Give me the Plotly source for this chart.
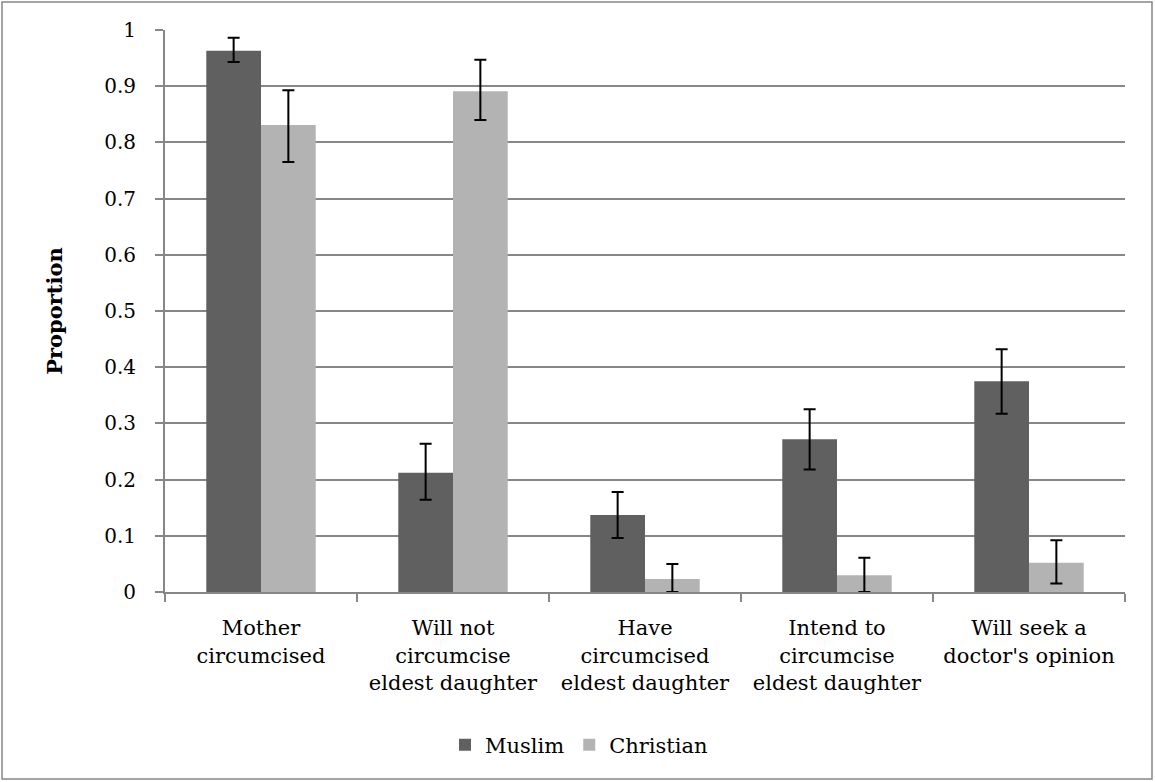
import plotly.graph_objects as go

# Survey outcomes by religion, with 95% confidence intervals
categories = [
    "Mother<br>circumcised",
    "Will not<br>circumcise<br>eldest daughter",
    "Have<br>circumcised<br>eldest daughter",
    "Intend to<br>circumcise<br>eldest daughter",
    "Will seek a<br>doctor's opinion",
]
muslim = [0.963, 0.212, 0.137, 0.272, 0.375]
muslim_err_plus = [0.023, 0.052, 0.041, 0.053, 0.057]
muslim_err_minus = [0.020, 0.048, 0.041, 0.054, 0.058]
christian = [0.831, 0.891, 0.023, 0.030, 0.052]
christian_err_plus = [0.062, 0.056, 0.027, 0.031, 0.040]
christian_err_minus = [0.066, 0.051, 0.023, 0.030, 0.037]
y_ticks = [0, 0.1, 0.2, 0.3, 0.4, 0.5, 0.6, 0.7, 0.8, 0.9, 1]
y_tick_text = ["0", "0.1", "0.2", "0.3", "0.4", "0.5", "0.6", "0.7", "0.8", "0.9", "1"]

FONT = "DejaVu Serif"
GRID = "#878787"

def err(plus, minus):
    return dict(type="data", symmetric=False, array=plus, arrayminus=minus,
                color="black", thickness=2, width=6)

fig = go.Figure()
fig.add_trace(go.Bar(name="Muslim", x=categories, y=muslim,
                     marker=dict(color="#606060", line=dict(width=0)),
                     error_y=err(muslim_err_plus, muslim_err_minus)))
fig.add_trace(go.Bar(name="Christian", x=categories, y=christian,
                     marker=dict(color="#b3b3b3", line=dict(width=0)),
                     error_y=err(christian_err_plus, christian_err_minus)))

L, R, T, B = 165, 30, 30, 190
W, H = 1155, 782
pw, ph = W - L - R, H - T - B

fig.update_layout(
    width=W, height=H,
    margin=dict(l=L, r=R, t=T, b=B, pad=0),
    paper_bgcolor="white", plot_bgcolor="white",
    barmode="group", bargap=0.43, bargroupgap=0,
    font=dict(family=FONT, size=20, color="black"),
    showlegend=True,
    legend=dict(orientation="h", x=(579 - L) / pw, xanchor="center",
                y=(H - B - 745) / ph, yanchor="middle",
                font=dict(family=FONT, size=21), itemwidth=30,
                traceorder="normal"),
    xaxis=dict(
        type="category", range=[-0.5, 4.5],
        showline=True, linecolor=GRID, linewidth=2,
        ticks="outside", tickson="boundaries", ticklen=8, tickwidth=2,
        tickcolor=GRID, showgrid=False,
        tickfont=dict(family=FONT, size=21), ticklabelstandoff=16,
    ),
    yaxis=dict(
        range=[0, 1], tickvals=y_ticks, ticktext=y_tick_text,
        showline=True, linecolor=GRID, linewidth=2,
        ticks="outside", ticklen=8, tickwidth=2, tickcolor=GRID,
        showgrid=True, gridcolor=GRID, gridwidth=2,
        zeroline=False,
        tickfont=dict(family=FONT, size=20), ticklabelstandoff=15,
        title=dict(text="<b>Proportion</b>", font=dict(family=FONT, size=21),
                   standoff=36),
    ),
    shapes=[dict(type="rect", xref="paper", yref="paper",
                 x0=(2 - L) / pw, x1=(W - 3 - L) / pw,
                 y0=(H - B - (H - 3)) / ph, y1=(H - B - 2) / ph,
                 line=dict(color=GRID, width=1.5), fillcolor="rgba(0,0,0,0)",
                 layer="below")],
)

fig.write_html("out.html")
